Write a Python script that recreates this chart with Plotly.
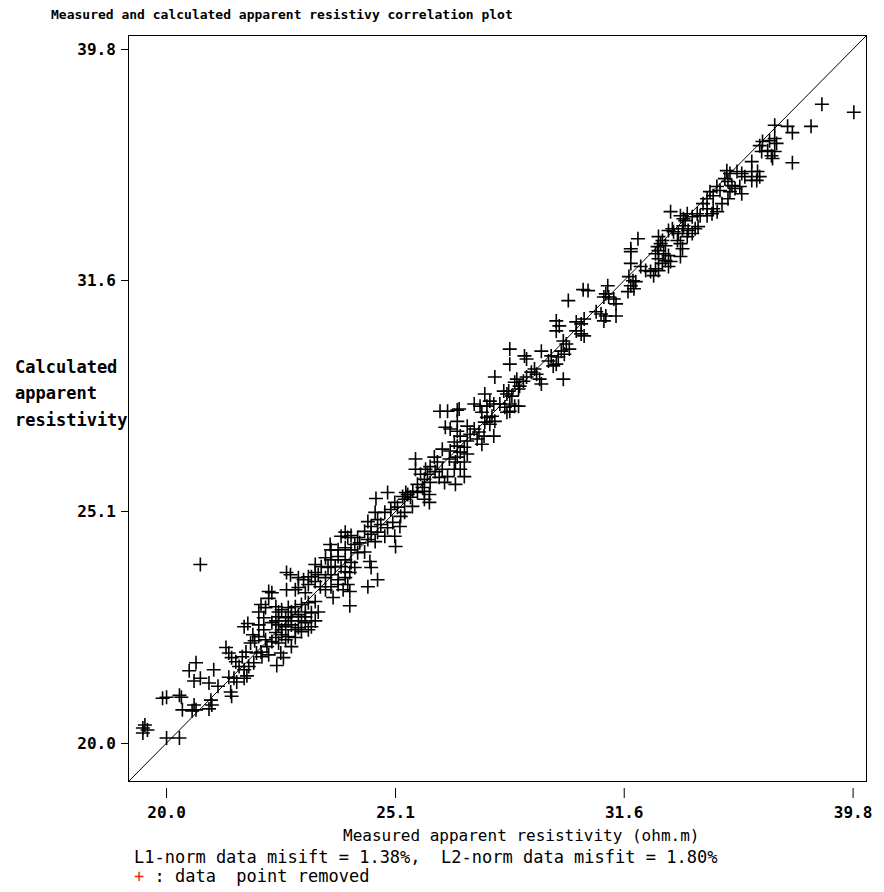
import math
import plotly.graph_objects as go

# ---------------- data (ohm.m) ----------------
measured = [
    # low end
    21.57, 21.65, 21.76, 21.80, 21.71, 21.89, 21.84, 21.61, 21.53, 21.39,
    21.46, 21.57, 21.67, 21.78, 21.18, 21.24, 21.30, 20.55, 20.41, 20.92,
    20.51, 20.64, 20.82, 21.01, 21.24, 21.35, 21.41, 21.28, 21.30, 21.57,
    21.63, 19.95, 19.87, 20.21, 20.25, 20.27, 20.51, 20.55, 20.47, 20.86,
    20.88, 20.82, 19.52, 19.48, 19.57, 19.48, 19.95, 20.21,
    # dense cluster
    20.64, 22.51, 22.60, 22.78, 22.90, 23.01, 23.17, 22.11, 22.18, 22.51,
    22.71, 22.11, 21.94, 21.89, 22.04, 22.27, 22.40, 22.55, 22.71, 22.85,
    23.01, 23.17, 22.33, 22.49, 22.62, 22.78, 22.94, 23.08, 23.24, 22.18,
    22.33, 22.49, 22.62, 22.78, 22.94, 23.08, 22.27, 22.40, 22.55, 22.71,
    22.85, 22.04, 22.18, 22.33, 22.49, 22.62, 22.38, 22.44, 22.29, 22.00,
    21.94, 22.07, 22.11, 21.96,
    22.33, 22.62, 22.94, 22.27, 22.55, 22.85, 23.17, 22.40, 23.01, 22.27,
    22.71, 21.89, 22.00,
    # 23 - 25.5
    25.38, 25.30, 24.92, 24.63, 25.10, 25.17, 25.00, 24.85, 25.25, 25.35,
    24.61, 24.67, 24.43, 24.51, 24.75, 24.92, 25.05, 25.23, 24.35, 24.51,
    24.67, 24.85, 25.10, 25.12, 23.88, 23.94, 23.78, 24.02, 24.18, 24.23,
    24.11, 24.43, 24.61, 23.52, 23.54, 23.71, 23.88, 24.02, 24.18, 24.35,
    23.41, 23.54, 23.71, 23.88, 24.02, 24.11, 24.48, 24.51, 23.17, 23.31,
    23.47, 23.64, 23.78, 23.88, 23.99, 23.08, 23.24, 23.41, 23.54, 23.71,
    23.88, 24.67, 24.43, 23.01, 23.17, 23.29, 23.41, 23.54, 23.71, 23.83,
    23.94, 23.99, 22.78, 22.94, 23.59, 23.99,
    # 25.3 - 27.8
    27.76, 27.48, 26.27, 26.47, 26.73, 27.19, 27.35, 27.54, 27.73, 27.40,
    27.54, 27.68, 27.48, 27.62, 27.76, 26.73, 26.41, 26.54, 26.73, 27.00,
    27.19, 27.32, 27.08, 27.27, 27.40, 27.46, 27.73, 26.81, 27.00, 26.65,
    26.73, 26.92, 26.81, 27.00, 26.73, 26.33, 26.54, 26.52, 26.68, 26.92,
    26.81, 26.65, 26.92, 25.63, 26.12, 26.20, 26.01, 25.89, 26.14, 26.33,
    26.47, 26.25, 26.39, 25.63, 25.76, 25.86, 25.94, 26.01, 25.68, 25.81,
    25.56, 25.68, 25.86, 25.99, 25.43, 25.50, 25.35, 25.86, 25.99, 26.68,
    25.55,
    # 27.6 - 30.4
    30.34, 29.89, 29.53, 29.62, 29.53, 30.13, 30.28, 30.37, 30.13, 30.28,
    30.37, 29.74, 29.83, 29.92, 29.68, 29.77, 29.59, 28.18, 28.60, 28.66,
    29.09, 28.18, 29.38, 29.30, 29.44, 29.53, 28.89, 28.80, 28.95, 29.04,
    29.09, 28.66, 28.57, 28.38, 28.32, 28.46, 28.43, 29.74, 28.01, 28.15,
    28.24, 28.10, 27.62, 27.90, 28.04, 28.18, 28.32, 28.43, 28.18, 28.10,
    26.78,
    # 30.5 - 33.6
    33.13, 33.46, 33.56, 32.06, 33.06, 33.23, 33.19, 33.39, 33.53, 32.73,
    32.86, 33.36, 33.46, 33.53, 31.83, 31.83, 32.70, 32.73, 32.63, 32.90,
    33.06, 32.73, 32.96, 32.86, 33.13, 33.06, 33.46, 31.83, 32.15, 32.31,
    32.47, 32.63, 32.73, 32.57, 31.77, 31.90, 31.99, 31.83, 31.93, 31.74,
    30.49, 31.10, 31.04, 31.13, 30.98, 31.29, 31.36, 30.74, 30.89, 31.04,
    30.98, 31.36,
    # 32.8 - 36.8
    36.34, 36.24, 36.60, 36.53, 36.67, 36.79, 35.95, 35.06, 35.17, 35.42,
    35.59, 35.70, 35.95, 36.16, 36.24, 36.13, 35.95, 34.99, 35.10, 35.24,
    35.35, 35.52, 35.59, 35.17, 35.10, 34.71, 34.82, 34.47, 34.58, 34.37,
    34.23, 34.37, 34.89, 34.58, 34.72, 34.54, 33.69, 33.86, 34.03, 34.13,
    34.37, 33.62, 33.56, 33.72, 33.96, 34.06, 33.86, 33.69, 32.80, 32.96,
    # top end
    38.58, 39.84, 36.79, 37.27, 37.45, 38.16, 36.79, 36.86, 36.31, 36.71,
    37.45,
]

calculated = [
    # low end
    22.40, 22.47, 22.22, 22.09, 22.04, 22.18, 21.82, 21.84, 21.74, 21.63,
    21.53, 21.46, 21.53, 21.61, 21.94, 21.82, 21.72, 21.61, 21.44, 21.46,
    21.22, 21.28, 21.18, 21.11, 21.30, 21.28, 21.20, 20.99, 20.90, 21.28,
    21.33, 20.88, 20.86, 20.92, 20.88, 20.62, 20.72, 20.62, 20.60, 20.82,
    20.72, 20.64, 20.31, 20.25, 20.21, 20.15, 20.05, 20.05,
    # dense cluster
    23.83, 23.64, 23.59, 23.52, 23.47, 23.54, 23.64, 23.20, 23.17, 23.24,
    23.24, 23.04, 22.90, 22.73, 22.83, 22.85, 22.78, 22.83, 22.85, 22.90,
    22.94, 22.97, 22.62, 22.60, 22.62, 22.67, 22.62, 22.71, 22.73, 22.49,
    22.44, 22.40, 22.44, 22.38, 22.49, 22.40, 22.27, 22.22, 22.18, 22.33,
    22.29, 22.11, 22.07, 22.04, 22.11, 21.96, 21.82, 21.72, 21.55, 22.33,
    21.84, 21.96, 21.78, 21.74,
    22.73, 22.73, 22.73, 22.53, 22.53, 22.53, 22.53, 22.33, 22.33, 22.16,
    22.16, 22.44, 22.60,
    # 23 - 25.5
    25.60, 25.50, 25.60, 25.45, 25.35, 25.23, 25.17, 25.10, 25.00, 25.10,
    25.10, 24.92, 24.87, 24.75, 24.80, 24.72, 24.85, 24.75, 24.63, 24.56,
    24.61, 24.51, 24.51, 24.26, 24.61, 24.48, 24.51, 24.53, 24.48, 24.35,
    24.31, 24.43, 24.38, 24.31, 24.18, 24.18, 24.23, 24.18, 24.11, 24.13,
    23.99, 23.94, 24.02, 23.94, 23.88, 23.76, 23.90, 23.76, 23.83, 23.78,
    23.76, 23.78, 23.78, 23.66, 23.64, 23.54, 23.59, 23.52, 23.59, 23.47,
    23.52, 23.47, 23.31, 23.36, 23.43, 23.31, 23.24, 23.31, 23.36, 23.24,
    23.36, 23.20, 23.29, 23.17, 23.06, 22.87,
    # 25.3 - 27.8
    28.72, 28.24, 27.76, 27.76, 27.79, 27.96, 27.90, 27.90, 27.96, 27.73,
    27.59, 27.62, 27.46, 27.40, 27.48, 27.48, 27.32, 27.27, 27.21, 27.35,
    27.27, 27.19, 27.13, 27.00, 26.86, 27.08, 27.08, 27.08, 26.95, 26.92,
    26.81, 26.78, 26.65, 26.60, 26.52, 26.73, 26.68, 26.47, 26.39, 26.39,
    26.20, 26.20, 26.01, 26.47, 26.52, 26.39, 26.27, 26.20, 26.14, 26.20,
    26.01, 25.99, 25.86, 26.20, 26.07, 25.94, 26.07, 25.86, 25.81, 25.73,
    25.63, 25.60, 25.63, 25.55, 25.55, 25.48, 25.43, 25.43, 25.35, 25.81,
    25.25,
    # 27.6 - 30.4
    31.33, 30.99, 30.37, 30.22, 30.07, 30.34, 30.28, 30.43, 30.07, 29.98,
    29.92, 29.77, 29.68, 29.53, 29.47, 29.38, 29.30, 29.53, 29.33, 29.24,
    29.47, 29.09, 29.33, 29.18, 29.04, 29.09, 28.95, 28.86, 28.80, 28.66,
    28.52, 28.72, 28.60, 28.66, 28.57, 28.46, 28.38, 28.66, 28.32, 28.32,
    28.18, 28.24, 28.04, 27.96, 27.87, 27.96, 27.90, 27.90, 27.76, 27.73,
    27.82,
    # 30.5 - 33.6
    33.86, 33.72, 33.62, 32.96, 33.23, 33.19, 33.29, 33.13, 33.29, 33.03,
    32.90, 32.90, 32.80, 32.63, 32.63, 32.54, 32.70, 32.57, 32.47, 32.47,
    32.41, 32.31, 32.25, 32.16, 32.22, 32.06, 32.38, 32.16, 32.06, 31.93,
    31.90, 31.99, 31.93, 31.77, 31.74, 31.61, 31.58, 31.45, 31.36, 31.27,
    31.30, 31.45, 31.20, 31.10, 31.10, 31.04, 30.89, 30.65, 30.58, 30.52,
    30.37, 30.52,
    # 32.8 - 36.8
    36.31, 36.16, 36.34, 35.98, 35.80, 35.95, 35.59, 35.27, 35.17, 35.24,
    35.17, 35.06, 35.24, 35.24, 35.06, 34.93, 34.93, 34.99, 34.89, 34.75,
    34.65, 34.72, 34.47, 34.54, 34.30, 34.72, 34.58, 34.54, 34.40, 34.30,
    34.13, 33.96, 34.13, 33.96, 33.86, 33.79, 33.79, 33.69, 33.79, 33.72,
    33.72, 33.56, 33.39, 33.23, 33.29, 33.36, 33.13, 33.03, 32.80, 32.73,
    # top end
    37.68, 37.38, 36.90, 36.86, 36.63, 36.86, 36.42, 36.24, 35.95, 35.70,
    35.55,
]

tick_values = [19.95, 25.12, 31.62, 39.81]
tick_labels = ["20.0", "25.1", "31.6", "39.8"]
axis_limits = [19.21, 40.33]

title_text = "Measured and calculated apparent resistivy correlation plot"
x_title = "Measured apparent resistivity (ohm.m)"
y_title_lines = ["Calculated", "apparent", "resistivity"]
misfit_text = "L1-norm data misift = 1.38%,\u00a0\u00a0L2-norm data misfit = 1.80%"
removed_text = '<span style="color:#e8261e">+</span> : data\u00a0\u00a0point removed'

# ---------------- layout geometry (pixels) ----------------
W, H = 884, 892
L, R, T, B = 129, 872, 36, 781
PW, PH = R - L, B - T
FONT = "DejaVu Sans Mono"


def px(xp):
    return (xp - L) / PW


def py(yp):
    return (B - yp) / PH


log_range = [math.log10(v) for v in axis_limits]


def x_to_paper(v):
    return (math.log10(v) - log_range[0]) / (log_range[1] - log_range[0])


fig = go.Figure()
fig.add_trace(go.Scatter(
    x=axis_limits, y=axis_limits, mode="lines",
    line=dict(color="black", width=1), hoverinfo="skip", showlegend=False,
))
fig.add_trace(go.Scatter(
    x=measured, y=calculated, mode="markers",
    marker=dict(symbol="cross-thin", size=10, color="black",
                line=dict(color="black", width=1.6)),
    showlegend=False,
))

axis_common = dict(
    type="log", range=log_range, showline=True, mirror=True,
    linecolor="black", linewidth=1, showgrid=False, zeroline=False,
    tickvals=tick_values, ticktext=tick_labels,
    tickfont=dict(family=FONT, size=16, color="black", weight="bold"),
)
fig.update_xaxes(**axis_common, ticks="", ticklabelstandoff=17)
fig.update_yaxes(**axis_common, ticks="outside", ticklen=7, tickwidth=1,
                 tickcolor="black", ticklabelstandoff=2)

# detached x tick marks below the frame
for v in tick_values:
    xp = x_to_paper(v)
    fig.add_shape(type="line", xref="paper", yref="paper",
                  x0=xp, x1=xp, y0=py(788), y1=py(798),
                  line=dict(color="black", width=1))

ann = []
ann.append(dict(text=f"<b>{title_text}</b>", x=px(48), y=py(14),
                xanchor="left", yanchor="middle",
                font=dict(family=FONT, size=13, color="black")))
for line, yy in zip(y_title_lines, [367, 393, 420]):
    ann.append(dict(text=f"<b>{line}</b>", x=px(12), y=py(yy),
                    xanchor="left", yanchor="middle",
                    font=dict(family=FONT, size=17, color="black")))
ann.append(dict(text=x_title, x=px(524), y=py(835), xanchor="center", yanchor="middle",
                font=dict(family=FONT, size=16, color="black")))
ann.append(dict(text=misfit_text, x=px(132), y=py(857), xanchor="left", yanchor="middle",
                font=dict(family=FONT, size=17, color="black")))
ann.append(dict(text=removed_text, x=px(132), y=py(876), xanchor="left", yanchor="middle",
                font=dict(family=FONT, size=17, color="black")))
for a in ann:
    a.update(xref="paper", yref="paper", showarrow=False)

fig.update_layout(
    width=W, height=H,
    margin=dict(l=L, r=W - R, t=T, b=H - B, pad=0),
    paper_bgcolor="white", plot_bgcolor="white",
    annotations=ann, showlegend=False,
)

fig.write_html("out.html")
